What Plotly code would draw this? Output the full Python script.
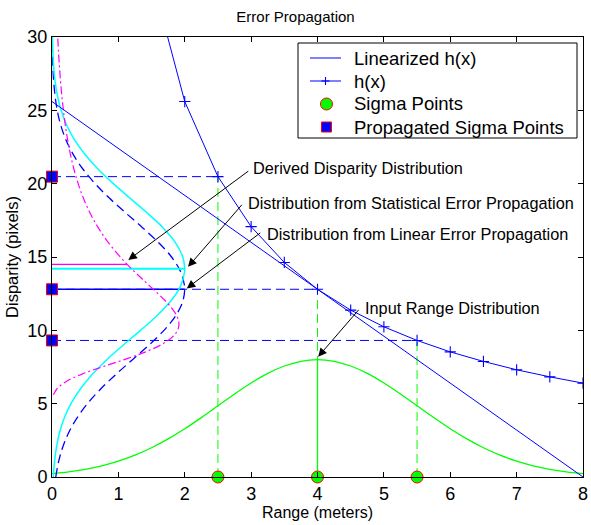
import plotly.graph_objects as go

# ---------------- data ----------------
# nonlinear measurement h(x): disparity vs range
hx_range = [1.5, 2.0, 2.5, 3.0, 3.5, 4.0, 4.5, 5.0, 5.5, 6.0, 6.5, 7.0, 7.5, 8.0]
hx_disp = [34.13, 25.60, 20.48, 17.07, 14.63, 12.80, 11.38, 10.24, 9.31, 8.53, 7.88, 7.31, 6.83, 6.40]

# linearized h(x) (tangent at range 4)
lin_range = [0.0, 8.0]
lin_disp = [25.6, 0.0]

# sigma points and propagated sigma points
sigma_range = [2.5, 4.0, 5.5]
sigma_disp0 = [0.0, 0.0, 0.0]
prop_range0 = [0.0, 0.0, 0.0]
prop_disp = [20.48, 12.80, 9.31]

# input range distribution
input_range = [0.0, 0.25, 0.5, 0.75, 1.0, 1.25, 1.5, 1.75, 2.0, 2.25, 2.5, 2.75, 3.0, 3.25, 3.5, 3.75,
               4.0, 4.25, 4.5, 4.75, 5.0, 5.25, 5.5, 5.75, 6.0, 6.25, 6.5, 6.75, 7.0, 7.25, 7.5, 7.75, 8.0]
input_dens = [0.229, 0.351, 0.526, 0.765, 1.083, 1.490, 1.995, 2.598, 3.289, 4.051, 4.852, 5.654, 6.406, 7.060, 7.568, 7.890,
              8.0, 7.890, 7.568, 7.060, 6.406, 5.654, 4.852, 4.051, 3.289, 2.598, 1.995, 1.490, 1.083, 0.765, 0.526, 0.351, 0.229]
input_peak_range = [4.0, 4.0]
input_peak_dens = [0.0, 8.0]

# distribution from linear error propagation (along disparity)
linprop_disp = [0, 1, 2, 3, 4, 5, 6, 7, 8, 9, 10, 11, 12, 12.8, 13, 14, 15, 16, 17, 18, 19, 20,
                21, 22, 23, 24, 25, 26, 27, 28, 29, 30]
linprop_dens = [0.057, 0.097, 0.159, 0.249, 0.373, 0.534, 0.733, 0.964, 1.213, 1.462, 1.687, 1.864, 1.972, 2.0,
                1.998, 1.938, 1.801, 1.601, 1.364, 1.112, 0.868, 0.649, 0.465, 0.319, 0.209, 0.131, 0.079,
                0.046, 0.025, 0.013, 0.007, 0.003]
linprop_mean = 12.8
linprop_peak = 2.0

# distribution from statistical error propagation
stat_disp = [0, 1, 2, 3, 4, 5, 6, 7, 8, 9, 10, 11, 12, 13, 14, 14.2, 15, 16, 17, 18, 19, 20,
             21, 22, 23, 24, 25, 26, 27, 28, 29, 30]
stat_dens = [0.020, 0.037, 0.066, 0.112, 0.183, 0.286, 0.427, 0.608, 0.827, 1.075, 1.334, 1.581, 1.790, 1.935,
             1.998, 2.0, 1.971, 1.857, 1.671, 1.436, 1.178, 0.924, 0.692, 0.495, 0.338, 0.220, 0.137, 0.082,
             0.046, 0.025, 0.013, 0.0065]
stat_mean = 14.2
stat_peak = 2.0

# derived disparity distribution
derived_disp = [5.6, 6.0, 6.5, 7.0, 7.5, 8.0, 8.5, 9.0, 9.5, 10.0, 10.5, 11.0, 11.5, 12.0, 12.5, 13.0,
                13.5, 14.0, 14.5, 15.0, 16.0, 17.0, 18.0, 19.0, 20.0, 21.0, 22.0, 23.0, 24.0, 25.0,
                26.0, 27.0, 28.0, 29.0, 30.0]
derived_dens = [0.022, 0.072, 0.210, 0.444, 0.752, 1.086, 1.393, 1.637, 1.804, 1.892, 1.912, 1.879, 1.806,
                1.709, 1.597, 1.478, 1.359, 1.243, 1.132, 1.029, 0.847, 0.696, 0.573, 0.474, 0.394, 0.330,
                0.277, 0.235, 0.200, 0.172, 0.148, 0.128, 0.112, 0.098, 0.086]
derived_mean = 14.5
derived_at_mean = 1.13

x_ticks = [0, 1, 2, 3, 4, 5, 6, 7, 8]
y_ticks = [0, 5, 10, 15, 20, 25, 30]

legend_names = ["Linearized h(x)", "h(x)", "Sigma Points", "Propagated Sigma Points"]

BLUE = "#0000ff"
GREEN = "#00ff00"
CYAN = "#00ffff"
MAGENTA = "#ff00ff"
RED = "#ff0000"
DASH = "9px,5px"

W, H = 591, 525
ML, MR, MT, MB = 52, 8, 37, 48
PW, PH = W - ML - MR, H - MT - MB


def px_x(p):
    return (p - ML) / PW


def px_y(p):
    return (H - MB - p) / PH


fig = go.Figure()

# guide lines from sigma points
for r, d in zip(sigma_range, prop_disp):
    fig.add_trace(go.Scatter(x=[0, r], y=[d, d], mode="lines", showlegend=False,
                             line=dict(color=BLUE, width=1, dash=DASH), hoverinfo="skip"))
    fig.add_trace(go.Scatter(x=[r, r], y=[0, d], mode="lines", showlegend=False,
                             line=dict(color=GREEN, width=1, dash=DASH), hoverinfo="skip"))

# input range distribution
fig.add_trace(go.Scatter(x=input_range, y=input_dens, mode="lines", line=dict(color=GREEN, width=1.3, shape="spline"),
                         showlegend=False))
fig.add_trace(go.Scatter(x=input_peak_range, y=input_peak_dens, mode="lines", line=dict(color=GREEN, width=1.3),
                         showlegend=False))

# disparity distributions
fig.add_trace(go.Scatter(x=linprop_dens, y=linprop_disp, mode="lines",
                         line=dict(color=BLUE, width=1.3, dash=DASH, shape="spline"), showlegend=False))
fig.add_trace(go.Scatter(x=[0, linprop_peak], y=[linprop_mean, linprop_mean], mode="lines",
                         line=dict(color=BLUE, width=1.3), showlegend=False))
fig.add_trace(go.Scatter(x=stat_dens, y=stat_disp, mode="lines",
                         line=dict(color=CYAN, width=1.5, shape="spline"), showlegend=False))
fig.add_trace(go.Scatter(x=[0, stat_peak], y=[stat_mean, stat_mean], mode="lines",
                         line=dict(color=CYAN, width=2.2), showlegend=False))
fig.add_trace(go.Scatter(x=derived_dens, y=derived_disp, mode="lines",
                         line=dict(color=MAGENTA, width=1.2, dash="8px,3px,2px,3px", shape="spline"), showlegend=False))
fig.add_trace(go.Scatter(x=[0, derived_at_mean], y=[derived_mean, derived_mean], mode="lines",
                         line=dict(color=MAGENTA, width=1.3), showlegend=False))

# h(x) and linearization
fig.add_trace(go.Scatter(x=lin_range, y=lin_disp, mode="lines", name=legend_names[0],
                         line=dict(color=BLUE, width=1), showlegend=False))
fig.add_trace(go.Scatter(x=hx_range, y=hx_disp, mode="lines+markers", name=legend_names[1],
                         line=dict(color=BLUE, width=1),
                         marker=dict(symbol="cross-thin", size=8, color=BLUE, line=dict(color=BLUE, width=1.1)),
                         showlegend=False))

# sigma points
fig.add_trace(go.Scatter(x=sigma_range, y=sigma_disp0, mode="markers", name=legend_names[2], cliponaxis=False,
                         marker=dict(symbol="circle", size=12, color=GREEN, line=dict(color=RED, width=1)),
                         showlegend=False))
fig.add_trace(go.Scatter(x=prop_range0, y=prop_disp, mode="markers", name=legend_names[3], cliponaxis=False,
                         marker=dict(symbol="square", size=11, color=BLUE, line=dict(color=RED, width=1)),
                         showlegend=False))

# annotations: arrows and labels
arrows = [
    ((1.15, 14.8), (2.98, 20.93)),
    ((2.05, 14.33), (2.88, 18.66)),
    ((2.03, 12.86), (3.16, 16.72)),
    ((4.01, 8.2), (4.64, 11.5)),
]
for (hx, hy), (tx, ty) in arrows:
    fig.add_annotation(x=hx, y=hy, ax=tx, ay=ty, xref="x", yref="y", axref="x", ayref="y",
                       text="", showarrow=True, arrowhead=2, arrowsize=1.7, arrowwidth=1, arrowcolor="black")

labels = [
    ("Derived Disparity Distribution", 3.00, 21.07),
    ("Distribution from Statistical Error Propagation", 2.93, 18.70),
    ("Distribution from Linear Error Propagation", 3.21, 16.57),
    ("Input Range Distribution", 4.68, 11.5),
]
for t, lx, ly in labels:
    fig.add_annotation(x=lx, y=ly, xref="x", yref="y", text=t, showarrow=False,
                       xanchor="left", yanchor="middle", font=dict(size=16.3, color="black"))

# ---- legend box (drawn like the MATLAB legend) ----
shapes = [dict(type="rect", xref="paper", yref="paper", x0=px_x(298), x1=px_x(577), y0=px_y(138), y1=px_y(43),
               line=dict(color="black", width=1), fillcolor="white", layer="above")]
row_y = [58, 81, 104, 127]
# line samples
for ry in row_y[:2]:
    shapes.append(dict(type="line", xref="paper", yref="paper", x0=px_x(310), x1=px_x(341), y0=px_y(ry), y1=px_y(ry),
                       line=dict(color=BLUE, width=1), layer="above"))
shapes.append(dict(type="line", xref="paper", yref="paper", x0=px_x(325.5), x1=px_x(325.5),
                   y0=px_y(row_y[1] - 4), y1=px_y(row_y[1] + 4), line=dict(color=BLUE, width=1.1), layer="above"))
shapes.append(dict(type="line", xref="paper", yref="paper", x0=px_x(321.5), x1=px_x(329.5),
                   y0=px_y(row_y[1]), y1=px_y(row_y[1]), line=dict(color=BLUE, width=1.1), layer="above"))
shapes.append(dict(type="circle", xref="paper", yref="paper", x0=px_x(320.5), x1=px_x(332.5),
                   y0=px_y(row_y[2] + 6), y1=px_y(row_y[2] - 6), fillcolor=GREEN, line=dict(color=RED, width=1),
                   layer="above"))
shapes.append(dict(type="rect", xref="paper", yref="paper", x0=px_x(321.5), x1=px_x(331.5),
                   y0=px_y(row_y[3] + 5), y1=px_y(row_y[3] - 5), fillcolor=BLUE, line=dict(color=RED, width=1),
                   layer="above"))
for name, ry in zip(legend_names, row_y):
    fig.add_annotation(x=px_x(352), y=px_y(ry), xref="paper", yref="paper", text=name, showarrow=False,
                       xanchor="left", yanchor="middle", font=dict(size=18.5, color="black"))

fig.update_layout(
    width=W, height=H,
    margin=dict(l=ML, r=MR, t=MT, b=MB),
    plot_bgcolor="white", paper_bgcolor="white",
    font=dict(family="Liberation Sans, Arial, sans-serif", size=16, color="black"),
    title=dict(text="Error Propagation", x=0.5, xref="container", xanchor="center",
               y=1 - 17 / H, yref="container", yanchor="middle", font=dict(size=15)),
    shapes=shapes,
    showlegend=False,
)
fig.update_xaxes(range=[0, 8], tickvals=x_ticks, ticks="inside", ticklen=5, tickcolor="black",
                 showline=True, linecolor="black", linewidth=1, mirror="ticks", showgrid=False, zeroline=False,
                 automargin=False, tickfont=dict(size=18),
                 title=dict(text="Range (meters)", standoff=4, font=dict(size=16)))
fig.update_yaxes(range=[0, 30], tickvals=y_ticks, ticks="inside", ticklen=5, tickcolor="black",
                 showline=True, linecolor="black", linewidth=1, mirror="ticks", showgrid=False, zeroline=False,
                 automargin=False, tickfont=dict(size=18),
                 title=dict(text="Disparity (pixels)", standoff=4, font=dict(size=16.5)))

fig.write_html("out.html", config={"displayModeBar": False},
               post_script="document.body.style.margin='0px';document.body.style.padding='0px';")
